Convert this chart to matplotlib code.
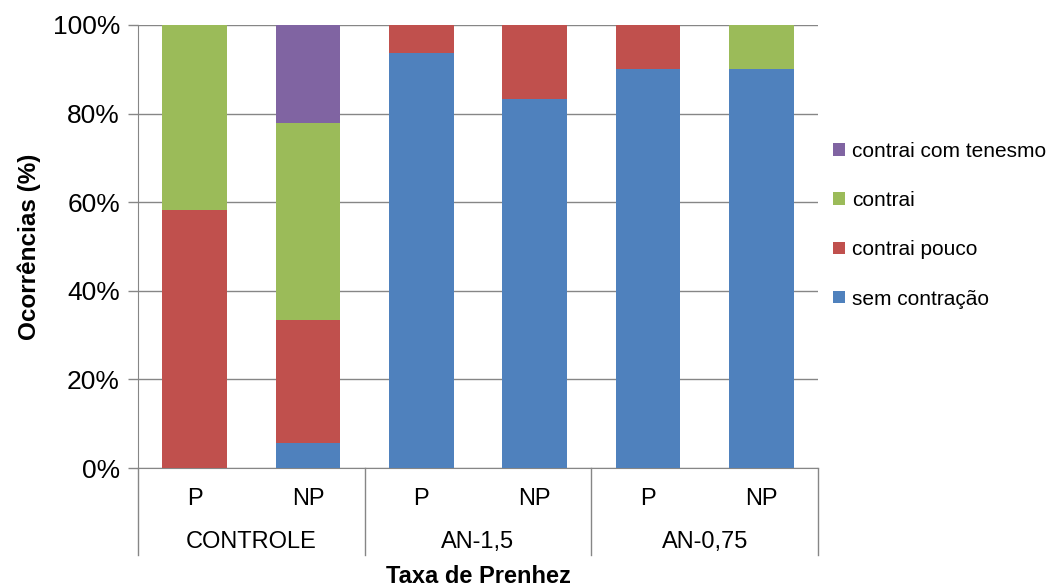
import matplotlib
matplotlib.use("Agg")
import matplotlib.pyplot as plt
import numpy as np

plt.rcParams['font.family'] = ['Liberation Sans', 'DejaVu Sans']

# ---------------- DATA ----------------
groups = ["CONTROLE", "AN-1,5", "AN-0,75"]
subs = ["P", "NP"]
series_names = ["sem contração", "contrai pouco", "contrai", "contrai com tenesmo"]
sem_contracao = [0.0, 5.6, 93.75, 83.3, 90.0, 90.0]
contrai_pouco = [58.3, 27.8, 6.25, 16.7, 10.0, 0.0]
contrai = [41.7, 44.4, 0.0, 0.0, 0.0, 10.0]
contrai_tenesmo = [0.0, 22.2, 0.0, 0.0, 0.0, 0.0]
colors = ["#4F81BD", "#C0504D", "#9BBB59", "#8064A2"]

# ---------------- FIGURE ----------------
fig = plt.figure(figsize=(10.54, 5.87), dpi=100)
ax = fig.add_axes([138/1054, 1 - 468/587, 680/1054, 443/587])

x = np.arange(len(sem_contracao))
bottom = np.zeros(len(x))
for vals, name, c in zip([sem_contracao, contrai_pouco, contrai, contrai_tenesmo], series_names, colors):
    ax.bar(x, vals, bottom=bottom, width=0.57, color=c, label=name, zorder=3)
    bottom += np.array(vals)

ax.set_xlim(-0.5, len(x) - 0.5)
ax.set_ylim(0, 100)
ax.set_yticks(np.arange(0, 101, 20))
ax.set_yticklabels([f"{v}%" for v in range(0, 101, 20)], fontsize=19)
ax.yaxis.grid(True, color="#868686", linewidth=1, zorder=0)
ax.tick_params(axis="y", length=7, color="#868686", width=1, pad=6)
ax.set_xticks([])

for s in ["top", "right"]:
    ax.spines[s].set_visible(False)
ax.spines["left"].set_color("#868686")
ax.spines["bottom"].set_color("#868686")

ax.set_ylabel("Ocorrências (%)", fontsize=17.5, fontweight="bold", labelpad=8)

# category axis (two levels)
trans = ax.get_xaxis_transform()
cat_depth = (555 - 468) / 443
for i, lab in enumerate(subs * len(groups)):
    ax.text(x[i], -0.07, lab, transform=trans, ha="center", va="center", fontsize=17)
for g, name in enumerate(groups):
    ax.text(2 * g + 0.5, -0.167, name, transform=trans, ha="center", va="center", fontsize=17)
for sep in [-0.5, 1.5, 3.5, 5.5]:
    ax.plot([sep, sep], [0, -cat_depth], transform=trans, color="#868686",
            linewidth=1, clip_on=False)

ax.text(0.5 * (len(x) - 1), -0.246, "Taxa de Prenhez", transform=trans, ha="center",
        va="center", fontsize=17, fontweight="bold")

# legend
handles, labels = ax.get_legend_handles_labels()
ax.legend(handles[::-1], labels[::-1], loc="center left", bbox_to_anchor=(0.995, 0.548),
          frameon=False, fontsize=15, handlelength=0.55, handleheight=0.55,
          handletextpad=0.35, labelspacing=1.45)

fig.savefig("out.png", dpi=100)
